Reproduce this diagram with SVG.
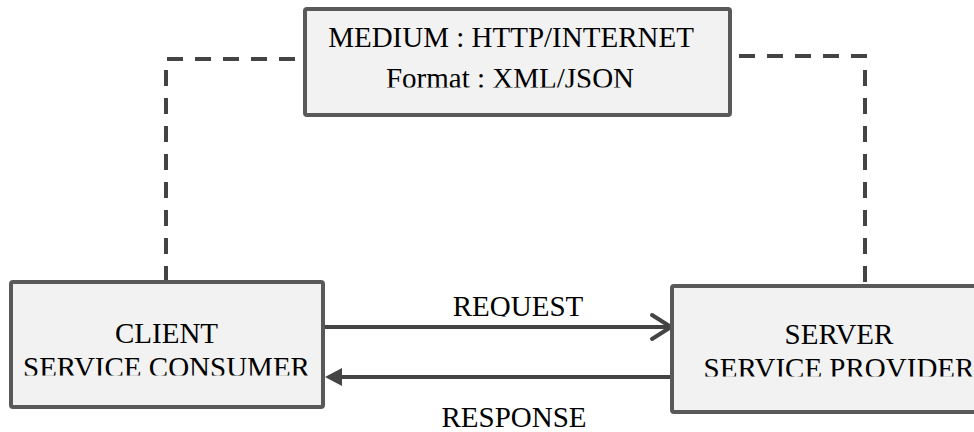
<svg xmlns="http://www.w3.org/2000/svg" width="974" height="432" viewBox="0 0 974 432">
<style>
.box{fill:#f2f2f2;stroke:#595959;stroke-width:4}
.t{font-family:"Liberation Serif","Times New Roman",serif;font-size:29px;fill:#000;text-anchor:middle}
.dash{fill:none;stroke:#444;stroke-width:4;stroke-dasharray:16 12}
.ln{fill:none;stroke:#444;stroke-width:4}
</style>
<defs>
<clipPath id="cTop"><rect x="300" y="0" width="440" height="87.5"/></clipPath>
<clipPath id="cClient"><rect x="0" y="280" width="340" height="95.5"/></clipPath>
<clipPath id="cServer"><rect x="660" y="280" width="320" height="96.5"/></clipPath>
<clipPath id="cReq"><rect x="400" y="280" width="240" height="36.5"/></clipPath>
</defs>
<g id="connectors">
<path class="dash" d="M166,282 V59 H305"/>
<path class="dash" d="M865,282 V56 H730"/>
<line class="ln" x1="323" y1="327" x2="670" y2="327"/>
<polyline class="ln" points="652,315 671,327 652,339" stroke-linecap="round" stroke-linejoin="round"/>
<line class="ln" x1="672" y1="377" x2="338" y2="377"/>
<polygon points="325,377 342,368 342,386" fill="#444"/>
<text class="t" x="518" y="316" clip-path="url(#cReq)">REQUEST</text>
<text class="t" x="514" y="427">RESPONSE</text>
</g>
<g id="medium">
<rect class="box" x="305" y="9" width="425" height="106" rx="2"/>
<g clip-path="url(#cTop)">
<text class="t" x="511" y="47">MEDIUM : HTTP/INTERNET</text>
<text class="t" x="510" y="88">Format : XML/JSON</text>
</g>
</g>
<g id="client">
<rect class="box" x="11" y="282" width="312" height="125" rx="2"/>
<g clip-path="url(#cClient)">
<text class="t" x="166.5" y="343">CLIENT</text>
<text class="t" x="166.5" y="377">SERVICE CONSUMER</text>
</g>
</g>
<g id="server">
<rect class="box" x="672" y="286" width="334" height="126" rx="2"/>
<g clip-path="url(#cServer)">
<text class="t" x="839" y="344">SERVER</text>
<text class="t" x="839" y="378">SERVICE PROVIDER</text>
</g>
</g>
</svg>
